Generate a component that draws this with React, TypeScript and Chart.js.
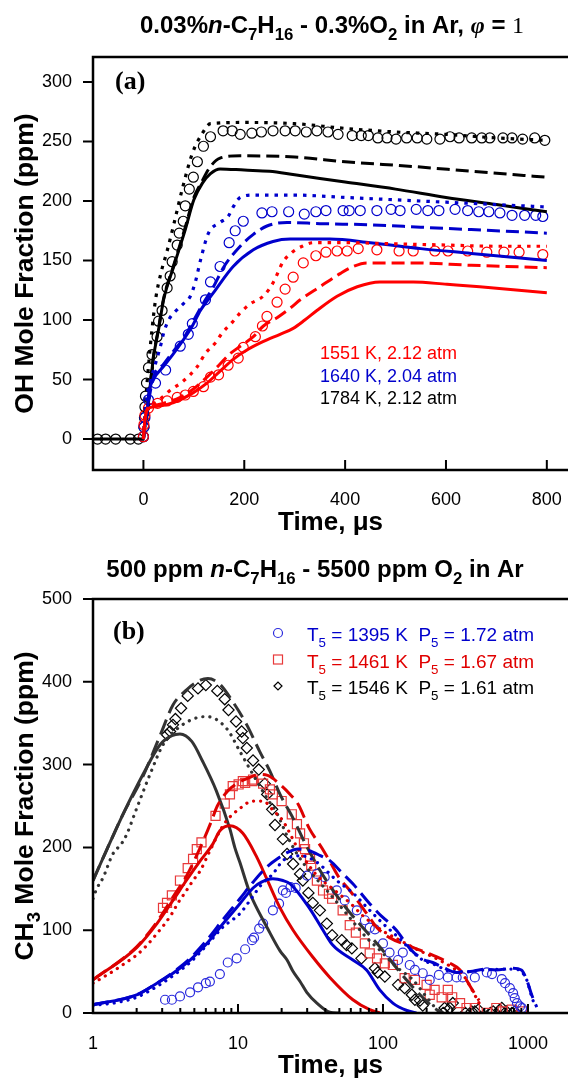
import React, { useEffect, useRef } from "react";
import { Chart, registerables } from "chart.js";

Chart.register(...registerables);

const SANS = "'Liberation Sans', Arial, Helvetica, sans-serif";
const SERIF = "'Liberation Serif', 'Times New Roman', serif";

type P = [number, number];

// ---------- Panel (a): OH, linear time (µs) ----------
const aXTicks = [0, 200, 400, 600, 800];
const aYTicks = [0, 50, 100, 150, 200, 250, 300];
const aLegend = ["1551 K, 2.12 atm", "1640 K, 2.04 atm", "1784 K, 2.12 atm"];

const a1551Exp: P[] = [[0,2],[1,12],[3,20],[10,26],[28,30],[47,32],[67,35],[83,37],[99,40],[119,44],[133,52],[149,54],[168,62],[188,68],[198,77],[222,86],[236,95],[245,103],[265,115],[281,126],[297,136],[317,148],[342,154],[362,157],[384,158],[404,158],[426,160],[463,159],[507,158],[535,158],[578,158],[604,158],[643,158],[681,157],[715,157],[745,157],[792,155]];
const a1551Solid: P[] = [[0,0],[3,16],[8,25],[20,27],[47,29],[73,33],[99,39],[126,47],[152,57],[178,67],[206,75],[238,82],[271,88],[297,93],[320,100],[344,108],[384,120],[424,128],[469,132],[535,132],[602,130],[667,128],[800,123]];
const a1551Dash: P[] = [[0,0],[3,16],[8,26],[20,28],[47,31],[73,35],[99,42],[126,52],[152,63],[170,71],[192,78],[218,86],[238,95],[265,102],[291,110],[311,117],[350,128],[390,139],[416,145],[443,148],[535,148],[650,146],[800,144]];
const a1551Dot: P[] = [[0,0],[3,16],[8,25],[25,31],[40,36],[53,41],[77,48],[107,61],[123,72],[143,81],[156,89],[176,98],[192,106],[210,113],[240,121],[258,132],[277,149],[295,157],[315,162],[337,165],[400,165],[500,164],[600,163],[700,162],[800,162]];

const a1640Exp: P[] = [[0,2],[1,10],[3,18],[10,33],[24,47],[44,58],[73,78],[89,88],[97,97],[123,117],[133,132],[152,145],[170,165],[182,175],[198,183],[235,190],[255,191],[288,191],[319,189],[342,191],[362,192],[396,192],[408,192],[430,192],[463,192],[491,193],[509,192],[541,193],[564,192],[586,192],[618,193],[643,192],[665,191],[685,191],[707,190],[731,188],[756,188],[778,188],[792,187]];
const a1640Solid: P[] = [[0,0],[3,12],[8,25],[10,36],[20,50],[40,61],[60,72],[77,82],[97,95],[113,108],[139,123],[178,145],[218,159],[257,166],[291,168],[370,168],[450,165],[550,160],[650,156],[800,150]];
const a1640Dash: P[] = [[0,0],[3,13],[8,26],[20,52],[40,63],[60,74],[80,85],[100,100],[120,115],[139,128],[160,145],[192,162],[218,172],[245,179],[285,182],[350,181],[450,180],[550,178],[650,176],[800,173]];
const a1640Dot: P[] = [[0,0],[5,30],[15,50],[25,65],[35,80],[40,89],[50,100],[65,108],[80,114],[93,120],[103,132],[113,150],[129,173],[152,182],[168,187],[178,195],[192,203],[220,205],[300,205],[400,203],[500,201],[600,199],[700,197],[800,195]];

const a1784Exp: P[] = [[-91,0],[-75,0],[-55,0],[-26,0],[-10,0],[0,2],[1,10],[2,18],[3,27],[4,36],[6,47],[10,60],[17,71],[27,86],[30,99],[37,108],[47,127],[53,137],[57,149],[67,163],[71,173],[79,183],[83,196],[91,210],[99,220],[107,233],[119,246],[133,254],[158,259],[176,259],[192,256],[215,257],[234,258],[257,259],[281,259],[301,259],[323,258],[344,259],[366,258],[386,256],[414,255],[432,255],[446,255],[465,253],[483,253],[501,252],[522,253],[543,253],[562,252],[588,252],[608,254],[626,253],[651,253],[671,253],[687,253],[713,253],[731,253],[752,252],[776,253],[796,251]];
const a1784Solid: P[] = [[-100,0],[0,0],[2,8],[8,25],[14,47],[20,69],[30,92],[40,117],[60,145],[83,176],[100,201],[117,215],[133,223],[152,227],[200,226],[250,225],[300,222],[400,216],[500,210],[600,203],[700,197],[800,191]];
const a1784Dash: P[] = [[0,0],[2,8],[8,26],[14,48],[20,70],[30,93],[40,118],[60,146],[83,178],[100,203],[113,214],[133,229],[152,236],[192,238],[300,237],[400,233],[535,229],[650,225],[800,220]];
const a1784Dot: P[] = [[0,0],[5,35],[10,61],[17,92],[24,117],[35,140],[47,158],[60,180],[77,210],[97,240],[117,257],[133,265],[200,266],[300,265],[400,261],[500,258],[600,256],[700,253],[800,251]];

// ---------- Panel (b): CH3, log time (µs) ----------
const bXTicks = [1, 10, 100, 1000];
const bYTicks = [0, 100, 200, 300, 400, 500];
const bLegendT = ["1395", "1461", "1546"];
const bLegendP = ["1.72", "1.67", "1.61"];

const b1395Exp: P[] = [[3.14,16],[3.5,16],[3.98,20],[4.67,25],[5.3,31],[6.0,36],[6.4,38],[7.5,47],[8.5,61],[9.8,66],[11.2,77],[12.5,88],[12.9,91],[14,102],[14.9,108],[17.4,124],[19.2,132],[20.4,148],[21.4,145],[23,152],[25,151],[30,166],[35,168],[39.6,164],[48,148],[54.5,136],[66,124],[75,112],[81,103],[88,101],[100,84],[111,73],[127,64],[137,73],[153,58],[166,52],[188,48],[210,40],[243,46],[280,43],[322,43],[355,43],[430,43],[520,49],[565,47],[660,41],[695,36],[750,30],[790,24],[810,18],[840,12],[880,8],[910,6]];
const b1395Solid: P[] = [[1,10],[2.0,22],[2.76,36],[3.56,48],[4.67,64],[6.1,84],[7.9,108],[10.3,132],[12.7,151],[14.5,158],[17.4,162],[20.4,160],[22.9,156],[31,127],[38.6,100],[45,82],[62,64],[77,52],[95,28],[117,12],[146,3],[170,0]];
const b1395Dash: P[] = [[1,10],[2,22],[2.76,36],[3.56,49],[4.67,66],[6.1,88],[7.9,113],[10.3,138],[12.7,158],[15.5,175],[18.6,186],[22,194],[26,198],[31,196],[37,190],[43,184],[53,168],[62,156],[81,132],[95,119],[110,109],[125,99],[153,78],[188,65],[220,61],[260,55],[320,49],[400,50],[500,53],[600,52],[790,54],[900,52],[980,40],[1060,22],[1150,7]];
const b1395Dot: P[] = [[1,9],[1.5,13],[2,19],[2.76,32],[3.56,45],[4.67,61],[6.1,82],[7.9,104],[10.3,120],[12.1,136],[14.5,155],[17.4,168],[20.4,184],[22.9,188],[27,190],[35,182],[48,160],[62,145],[81,124],[100,108],[130,90],[160,74],[188,64],[230,58],[300,50],[400,50],[500,52],[790,53],[900,50],[980,40],[1060,20],[1120,8]];

const b1461Exp: P[] = [[3.04,127],[3.24,133],[3.5,142],[3.98,160],[4.5,175],[4.9,186],[5.2,198],[5.6,206],[7.0,238],[8.1,253],[8.8,264],[9.2,274],[10.1,276],[10.8,280],[11.2,278],[12.5,280],[12.7,282],[14.9,277],[16.6,270],[17.4,264],[20,256],[23.5,240],[25.5,228],[26.8,217],[28.5,205],[29,198],[31.4,186],[32,178],[35,160],[38.6,148],[42.4,144],[44.6,138],[52.7,124],[59,106],[65,97],[75,84],[81,72],[91,66],[103,60],[117,58],[141,42],[166,40],[200,34],[210,22],[227,28],[254,19],[280,28],[300,19],[340,12],[377,6],[430,6],[520,0],[605,6],[670,2],[775,4],[910,2]];
const b1461Solid: P[] = [[1,40],[2.0,79],[2.76,108],[3.56,136],[4.4,160],[5.5,184],[6.7,204],[7.5,220],[8.8,226],[10.8,217],[13.5,188],[15.8,162],[19.5,127],[24,100],[33,67],[43,43],[62,16],[81,4],[95,0]];
const b1461Dash: P[] = [[1,40],[2,80],[2.76,110],[3.56,140],[4.4,165],[5.5,200],[6.5,230],[7.2,250],[8.5,268],[10,278],[11.5,283],[14,288],[16,287],[19.5,276],[22.9,264],[26,252],[31,223],[38,199],[43,183],[50,163],[59,148],[69,132],[81,115],[91,103],[111,91],[146,82],[180,76],[220,70],[290,60],[340,52],[400,32],[460,15]];
const b1461Dot: P[] = [[1,36],[1.17,43],[1.42,52],[1.66,60],[2.0,70],[2.36,82],[2.76,96],[3.14,108],[3.5,120],[3.86,133],[4.3,145],[4.9,160],[5.5,172],[6.4,196],[8,228],[10.3,247],[12.7,256],[14.9,256],[17.4,245],[20.4,232],[26,198],[35,166],[45,150],[60,132],[72,118],[98,100],[130,88],[180,75],[220,68],[300,55],[360,45],[420,25],[460,12]];

const b1546Exp: P[] = [[3.24,336],[3.4,340],[3.56,348],[3.7,355],[4.05,368],[4.5,383],[5.3,392],[6.0,396],[7.2,389],[8.1,379],[8.6,366],[9.7,352],[10.6,340],[10.8,332],[11.5,320],[12.7,305],[13.9,294],[15.3,277],[15.9,264],[17.2,246],[18,227],[20.4,210],[21.8,192],[24,180],[26.8,168],[28,160],[30.6,145],[32.8,133],[36.7,124],[41,108],[44.6,94],[52,88],[56,82],[61,78],[71,66],[88,54],[92,49],[103,44],[127,34],[141,30],[158,22],[166,16],[180,15],[188,9],[260,0],[266,6],[290,6],[303,12],[370,0],[409,2],[430,2],[455,4],[550,0],[575,2],[640,4],[660,6],[710,2],[775,0],[810,2]];
const b1546Solid: P[] = [[1,160],[1.25,198],[1.61,240],[2.21,288],[2.9,324],[3.5,335],[3.98,337],[4.8,328],[5.7,304],[7.1,268],[8.8,222],[9.5,200],[10.3,182],[11.9,148],[12.7,136],[15.9,103],[19.5,75],[21.8,64],[24,50],[26.8,38],[29.8,25],[35,12],[43,1],[50,0]];
const b1546Dash: P[] = [[1,160],[1.25,198],[1.61,240],[2.2,285],[2.9,335],[3.56,372],[4.4,390],[5.5,402],[6.2,404],[7.5,397],[9.2,376],[11.5,348],[14.1,316],[16.6,292],[19.5,264],[24,235],[30,200],[40,162],[55,128],[77,98],[95,80],[130,50],[180,22],[230,5],[260,0]];
const b1546Dot: P[] = [[1,138],[1.06,150],[1.17,163],[1.37,192],[1.58,205],[1.71,216],[2.0,247],[2.47,288],[3.04,324],[3.8,343],[4.9,355],[6.1,358],[8.4,343],[10.3,316],[12.7,288],[15.9,259],[18.6,241],[21.8,214],[26,190],[30,175],[41,148],[56,120],[77,91],[95,76],[125,55],[161,40],[200,19],[236,4],[250,0]];

// ---------- helpers ----------
const pts = (a: P[]) => a.map(([x, y]) => ({ x, y }));

function lineDs(data: P[], color: string, style: string, dot: number[], dash: number[]): any {
  return {
    data: pts(data),
    borderColor: color,
    backgroundColor: color,
    borderWidth: style === "dot" ? 3.2 : 3,
    borderDash: style === "dash" ? dash : style === "dot" ? dot : [],
    borderCapStyle: style === "dot" && dot[0] < 1 ? "round" : "butt",
    pointRadius: 0,
    fill: false,
    cubicInterpolationMode: "monotone",
  };
}

function markDs(data: P[], color: string, pointStyle: string, radius: number): any {
  return {
    data: pts(data),
    showLine: false,
    pointStyle,
    pointRadius: radius,
    pointBorderColor: color,
    pointBackgroundColor: "rgba(0,0,0,0)",
    pointBorderWidth: 1.2,
    borderColor: color,
    backgroundColor: "rgba(0,0,0,0)",
  };
}

type Seg = { t: string; sub?: boolean; it?: boolean; serif?: boolean; bold?: boolean };

function segFont(s: Seg, size: number, bold: boolean) {
  const sz = s.sub ? size * 0.7 : size;
  const b = s.bold === undefined ? bold : s.bold;
  return `${s.it ? "italic " : ""}${b ? "bold " : ""}${sz}px ${s.serif ? SERIF : SANS}`;
}

function drawRich(ctx: any, segs: Seg[], x: number, y: number, size: number, align: string, bold = true) {
  ctx.textAlign = "left";
  ctx.textBaseline = "alphabetic";
  let total = 0;
  const ws = segs.map((s) => {
    ctx.font = segFont(s, size, bold);
    const w = ctx.measureText(s.t).width;
    total += w;
    return w;
  });
  let cx = align === "center" ? x - total / 2 : x;
  segs.forEach((s, i) => {
    ctx.font = segFont(s, size, bold);
    ctx.fillText(s.t, cx, y + (s.sub ? size * 0.3 : 0));
    cx += ws[i];
  });
}

const titleA: Seg[] = [
  { t: "0.03%" }, { t: "n", it: true }, { t: "-C" }, { t: "7", sub: true }, { t: "H" }, { t: "16", sub: true },
  { t: " - 0.3%O" }, { t: "2", sub: true }, { t: " in Ar, " }, { t: "\u03C6", it: true, serif: true }, { t: " = " },
  { t: "1", serif: true, bold: false },
];
const titleB: Seg[] = [
  { t: "500 ppm " }, { t: "n", it: true }, { t: "-C" }, { t: "7", sub: true }, { t: "H" }, { t: "16", sub: true },
  { t: " - 5500 ppm O" }, { t: "2", sub: true }, { t: " in Ar" },
];

function drawFrame(chart: any, xTicks: number[], yTicks: number[], minor: number[], majLen: number) {
  const { ctx, chartArea: ca } = chart;
  const xs = chart.scales.x;
  const ys = chart.scales.y;
  ctx.save();
  ctx.strokeStyle = "#000";
  ctx.lineWidth = 2.5;
  ctx.lineCap = "butt";
  ctx.beginPath();
  ctx.moveTo(chart.width, ca.top);
  ctx.lineTo(ca.left, ca.top);
  ctx.lineTo(ca.left, ca.bottom);
  ctx.lineTo(chart.width, ca.bottom);
  ctx.stroke();
  ctx.lineWidth = 2;
  ctx.beginPath();
  xTicks.forEach((v) => {
    const p = xs.getPixelForValue(v);
    ctx.moveTo(p, ca.bottom);
    ctx.lineTo(p, ca.bottom - majLen);
  });
  minor.forEach((v) => {
    const p = xs.getPixelForValue(v);
    ctx.moveTo(p, ca.bottom);
    ctx.lineTo(p, ca.bottom - 5);
  });
  yTicks.forEach((v) => {
    const p = ys.getPixelForValue(v);
    ctx.moveTo(ca.left, p);
    ctx.lineTo(ca.left - 10, p);
  });
  ctx.stroke();
  ctx.restore();
}

const decorA = {
  id: "decorA",
  afterDraw(chart: any) {
    const { ctx, chartArea: ca } = chart;
    drawFrame(chart, aXTicks, aYTicks, [], 10);
    ctx.save();
    ctx.fillStyle = "#000";
    drawRich(ctx, titleA, 332, 32.5, 24, "center");
    drawRich(ctx, [{ t: "Time, \u03BCs" }], (ca.left + ca.right) / 2, 521 + 9.3, 26, "center");
    ctx.save();
    ctx.translate(23, (ca.top + ca.bottom) / 2);
    ctx.rotate(-Math.PI / 2);
    drawRich(ctx, [{ t: "OH Mole Fraction (ppm)" }], 0, 9.5, 26.5, "center");
    ctx.restore();
    ctx.font = `bold 26px ${SERIF}`;
    ctx.textAlign = "left";
    ctx.textBaseline = "alphabetic";
    ctx.fillText("(a)", 115, 89);
    const cols = ["#ff0000", "#0000cc", "#000000"];
    const base = [359.4, 382.4, 404.4];
    aLegend.forEach((s, i) => {
      ctx.fillStyle = cols[i];
      drawRich(ctx, [{ t: s }], 320, base[i], 18, "left", false);
    });
    ctx.restore();
  },
};

const bMinor: number[] = [];
[1, 10, 100, 1000].forEach((d) => {
  for (let k = 2; k <= 9; k++) if (d * k < 1880) bMinor.push(d * k);
});

const decorB = {
  id: "decorB",
  afterDraw(chart: any) {
    const { ctx, chartArea: ca } = chart;
    drawFrame(chart, bXTicks, bYTicks, bMinor, 9);
    ctx.save();
    ctx.fillStyle = "#000";
    drawRich(ctx, titleB, 315, 32, 24, "center");
    drawRich(ctx, [{ t: "Time, \u03BCs" }], (ca.left + ca.right) / 2, 519 + 9.3, 26, "center");
    ctx.save();
    ctx.translate(23, (ca.top + ca.bottom) / 2);
    ctx.rotate(-Math.PI / 2);
    drawRich(ctx, [{ t: "CH" }, { t: "3", sub: true }, { t: " Mole Fraction (ppm)" }], 0, 9.5, 26.5, "center");
    ctx.restore();
    ctx.font = `bold 26px ${SERIF}`;
    ctx.textAlign = "left";
    ctx.textBaseline = "alphabetic";
    ctx.fillText("(b)", 113, 93.5);
    const cols = ["#0000cc", "#e00000", "#000000"];
    const mcols = ["#2b2bdd", "#e8393a", "#000000"];
    const my = [88, 114.5, 141];
    const base = [95.8, 122.8, 149.3];
    ctx.lineWidth = 1.2;
    ctx.strokeStyle = mcols[0];
    ctx.beginPath();
    ctx.arc(278, my[0], 4.5, 0, Math.PI * 2);
    ctx.stroke();
    ctx.strokeStyle = mcols[1];
    ctx.strokeRect(273.5, my[1] - 4.5, 9, 9);
    ctx.strokeStyle = mcols[2];
    ctx.beginPath();
    ctx.moveTo(278 - 4, my[2]);
    ctx.lineTo(278, my[2] - 4);
    ctx.lineTo(278 + 4, my[2]);
    ctx.lineTo(278, my[2] + 4);
    ctx.closePath();
    ctx.stroke();
    bLegendT.forEach((tv, i) => {
      ctx.fillStyle = cols[i];
      drawRich(
        ctx,
        [{ t: "T" }, { t: "5", sub: true }, { t: ` = ${tv} K  P` }, { t: "5", sub: true }, { t: ` = ${bLegendP[i]} atm` }],
        307, base[i], 19, "left", false
      );
    });
    ctx.restore();
  },
};

function tickOpts(padding: number) {
  return {
    font: { size: 18, family: SANS },
    color: "#000",
    padding,
    maxRotation: 0,
    autoSkip: false,
    callback: (v: any) => String(v),
  };
}

function fitX(h: number) {
  return (s: any) => {
    s.height = h;
    s.paddingLeft = 0;
    s.paddingRight = 0;
  };
}
function fitY(s: any) {
  s.width = 93;
  s.paddingTop = 0;
  s.paddingBottom = 0;
}

function makeA(canvas: HTMLCanvasElement) {
  const dot = [3.5, 6];
  const dash = [13, 6];
  const datasets = [
    lineDs(a1551Solid, "#ff0000", "solid", dot, dash),
    lineDs(a1551Dash, "#ff0000", "dash", dot, dash),
    lineDs(a1551Dot, "#ff0000", "dot", dot, dash),
    lineDs(a1640Solid, "#0000cc", "solid", dot, dash),
    lineDs(a1640Dash, "#0000cc", "dash", dot, dash),
    lineDs(a1640Dot, "#0000cc", "dot", dot, dash),
    lineDs(a1784Solid, "#000000", "solid", dot, dash),
    lineDs(a1784Dash, "#000000", "dash", dot, dash),
    lineDs(a1784Dot, "#000000", "dot", dot, dash),
    markDs(a1551Exp, "#ff0000", "circle", 5),
    markDs(a1640Exp, "#0000cc", "circle", 5),
    markDs(a1784Exp, "#000000", "circle", 5),
  ];
  return new Chart(canvas, {
    type: "line",
    data: { datasets },
    options: {
      responsive: false,
      animation: false,
      events: [],
      layout: { autoPadding: false, padding: { top: 57, left: 0, right: 0, bottom: 0 } },
      plugins: { legend: { display: false }, tooltip: { enabled: false }, title: { display: false } },
      scales: {
        x: {
          type: "linear", min: -100, max: 842, bounds: "data",
          grid: { display: false }, border: { display: false },
          ticks: tickOpts(11),
          afterBuildTicks: (s: any) => { s.ticks = aXTicks.map((v) => ({ value: v })); },
          afterFit: fitX(75),
        },
        y: {
          type: "linear", min: -26, max: 321, bounds: "data",
          grid: { display: false }, border: { display: false },
          ticks: tickOpts(13),
          afterBuildTicks: (s: any) => { s.ticks = aYTicks.map((v) => ({ value: v })); },
          afterFit: fitY,
        },
      },
    } as any,
    plugins: [decorA],
  } as any);
}

function makeB(canvas: HTMLCanvasElement) {
  const dot = [0.1, 7];
  const dash = [16, 7];
  const datasets = [
    lineDs(b1395Solid, "#0000cc", "solid", dot, dash),
    lineDs(b1395Dash, "#0000cc", "dash", dot, dash),
    lineDs(b1395Dot, "#0000cc", "dot", dot, dash),
    lineDs(b1461Solid, "#dd0000", "solid", dot, dash),
    lineDs(b1461Dash, "#dd0000", "dash", dot, dash),
    lineDs(b1461Dot, "#dd0000", "dot", dot, dash),
    lineDs(b1546Solid, "#333333", "solid", dot, dash),
    lineDs(b1546Dash, "#333333", "dash", dot, dash),
    lineDs(b1546Dot, "#333333", "dot", dot, dash),
    markDs(b1395Exp, "#2b2bdd", "circle", 4.5),
    markDs(b1461Exp, "#e8393a", "rect", 6.4),
    markDs(b1546Exp, "#000000", "rectRot", 5.6),
  ];
  return new Chart(canvas, {
    type: "line",
    data: { datasets },
    options: {
      responsive: false,
      animation: false,
      events: [],
      layout: { autoPadding: false, padding: { top: 54, left: 0, right: 0, bottom: 0 } },
      plugins: { legend: { display: false }, tooltip: { enabled: false }, title: { display: false } },
      scales: {
        x: {
          type: "logarithmic", min: 1, max: 1888,
          grid: { display: false }, border: { display: false },
          ticks: tickOpts(12),
          afterBuildTicks: (s: any) => { s.ticks = bXTicks.map((v) => ({ value: v })); },
          afterFit: fitX(67),
        },
        y: {
          type: "linear", min: 0, max: 500, bounds: "data",
          grid: { display: false }, border: { display: false },
          ticks: tickOpts(13),
          afterBuildTicks: (s: any) => { s.ticks = bYTicks.map((v) => ({ value: v })); },
          afterFit: fitY,
        },
      },
    } as any,
    plugins: [decorB],
  } as any);
}

export default function App() {
  const refA = useRef<HTMLCanvasElement>(null);
  const refB = useRef<HTMLCanvasElement>(null);
  useEffect(() => {
    const a = makeA(refA.current as HTMLCanvasElement);
    const b = makeB(refB.current as HTMLCanvasElement);
    return () => {
      a.destroy();
      b.destroy();
    };
  }, []);
  return (
    <div style={{ position: "absolute", left: 0, top: 0, width: 568, height: 1080, background: "#fff", overflow: "hidden" }}>
      <canvas ref={refA} width={568} height={545} style={{ position: "absolute", left: 0, top: 0, display: "block" }} />
      <canvas ref={refB} width={568} height={535} style={{ position: "absolute", left: 0, top: 545, display: "block" }} />
    </div>
  );
}
